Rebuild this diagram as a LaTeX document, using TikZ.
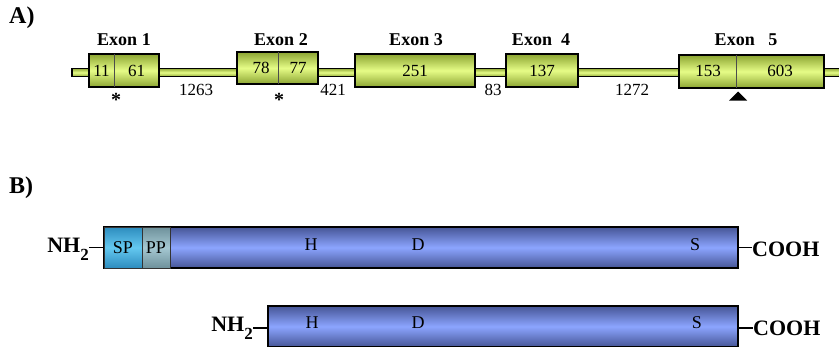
\documentclass[tikz,border=0pt]{standalone}
\usepackage{fontspec}
\setmainfont{Liberation Serif}
\definecolor{exdark}{RGB}{140,165,50}
\definecolor{exlight}{RGB}{230,252,135}
\definecolor{prdark}{RGB}{70,85,150}
\definecolor{prlight}{RGB}{140,165,255}
\definecolor{spdark}{RGB}{45,140,190}
\definecolor{splight}{RGB}{100,200,240}
\definecolor{ppdark}{RGB}{110,145,155}
\definecolor{pplight}{RGB}{165,200,210}
\begin{document}
\begin{tikzpicture}[x=1pt,y=-1pt,
  exon/.style={draw=black, line width=1.4pt, inner sep=0pt, outer sep=0pt,
    top color=exdark, bottom color=exdark, middle color=exlight},
  intronbar/.style={draw=black, line width=1.3pt, inner sep=0pt, outer sep=0pt,
    top color=exdark, bottom color=exdark, middle color=exlight, minimum height=8.5pt},
  divider/.style={draw=black!70, line width=0.8pt},
  exlabel/.style={font=\fontsize{18}{18}\selectfont\bfseries, inner sep=0pt},
  num/.style={font=\fontsize{17}{17}\selectfont, inner sep=0pt},
  panel/.style={font=\fontsize{24}{24}\selectfont\bfseries, inner sep=0pt, anchor=west},
  prot/.style={draw=black, line width=1.4pt, inner sep=0pt, outer sep=0pt,
    top color=prdark, bottom color=prdark, middle color=prlight, minimum height=41pt},
  spbox/.style={draw=black!80, line width=0.8pt, inner sep=0pt, outer sep=0pt,
    top color=spdark, bottom color=spdark, middle color=splight, minimum height=41pt, minimum width=38pt,
    font=\fontsize{18}{18}\selectfont},
  ppbox/.style={draw=black!80, line width=0.8pt, inner sep=0pt, outer sep=0pt,
    top color=ppdark, bottom color=ppdark, middle color=pplight, minimum height=41pt, minimum width=28pt,
    font=\fontsize{18}{18}\selectfont},
  res/.style={font=\fontsize{18}{18}\selectfont, inner sep=0pt},
  term/.style={font=\fontsize{22}{22}\selectfont\bfseries, inner sep=0pt},
  bond/.style={draw=black, line width=1.4pt}
]
\useasboundingbox (0,0) rectangle (839,346);
\clip (0,0) rectangle (839,346);

% ---------- A) ----------
\node[panel] (labA) at (9,18) {A)};

\node[intronbar, minimum width=778pt] (gene) at (461,72.5) {};

\node[exon, minimum width=70pt, minimum height=33pt] (e1) at (124,70.5) {};
\node[exon, minimum width=81pt, minimum height=32pt] (e2) at (277.5,68) {};
\node[exon, minimum width=120pt, minimum height=33pt] (e3) at (415,70.5) {};
\node[exon, minimum width=72pt, minimum height=33pt] (e4) at (542,70.5) {};
\node[exon, minimum width=145pt, minimum height=33pt] (e5) at (751.5,71.5) {};

\draw[divider] ([xshift=25pt]e1.north west) -- ([xshift=25pt]e1.south west);
\draw[divider] ([xshift=41pt]e2.north west) -- ([xshift=41pt]e2.south west);
\draw[divider] ([xshift=57pt]e5.north west) -- ([xshift=57pt]e5.south west);

\node[exlabel] (l1) at (124,40) {Exon 1};
\node[exlabel] (l2) at (281,40) {Exon 2};
\node[exlabel] (l3) at (416,40) {Exon 3};
\node[exlabel] (l4) at (541,40) {Exon\enspace 4};
\node[exlabel] (l5) at (746,40) {Exon\enspace\ 5};

\node[num] (n11) at (101.5,71) {11};
\node[num] (n61) at (136.5,71) {61};
\node[num] (n78) at (261,68) {78};
\node[num] (n77) at (298,68) {77};
\node[num] (n251) at (415,70.5) {251};
\node[num] (n137) at (542,70.5) {137};
\node[num] (n153) at (708,71) {153};
\node[num] (n603) at (780,71) {603};

\node[num] (i1) at (196,89.5) {1263};
\node[num] (i2) at (333,89.5) {421};
\node[num] (i3) at (493,89.5) {83};
\node[num] (i4) at (632,89.5) {1272};

\node[num, font=\fontsize{20}{20}\selectfont\bfseries] (st1) at (116,100) {*};
\node[num, font=\fontsize{20}{20}\selectfont\bfseries] (st2) at (279,100) {*};

\coordinate (tri) at (738,96);
\fill[black] ([xshift=-9pt,yshift=-4.5pt]tri) -- ([yshift=4.5pt]tri) -- ([xshift=9pt,yshift=-4.5pt]tri) -- cycle;

% ---------- B) ----------
\node[panel] (labB) at (9,188) {B)};

\node[prot, minimum width=634pt] (p1) at (421,247.5) {};
\node[spbox, anchor=west] (sp) at (p1.west) {SP};
\node[ppbox, anchor=west] (pp) at (sp.east) {PP};
\node[res] (h1) at (311,245) {H};
\node[res] (d1) at (418,245) {D};
\node[res] (s1) at (695,245) {S};

\node[term, anchor=east] (nh1) at (89,249) {NH\raisebox{-0.38em}{\fontsize{17}{17}\selectfont 2}};
\node[term, anchor=west] (co1) at (752,249) {COOH};
\draw[bond] (p1.west) -- (nh1.east |- p1.west);
\draw[bond] (p1.east) -- (co1.west |- p1.east);

\node[prot, minimum width=470pt] (p2) at (503,326.5) {};
\node[res] (h2) at (312,323) {H};
\node[res] (d2) at (418,323) {D};
\node[res] (s2) at (697,323) {S};

\node[term, anchor=east] (nh2) at (253,328) {NH\raisebox{-0.38em}{\fontsize{17}{17}\selectfont 2}};
\node[term, anchor=west] (co2) at (753,328) {COOH};
\draw[bond] (p2.west |- nh2.east) -- (nh2.east);
\draw[bond] (p2.east |- co2.west) -- (co2.west);
\end{tikzpicture}
\end{document}
